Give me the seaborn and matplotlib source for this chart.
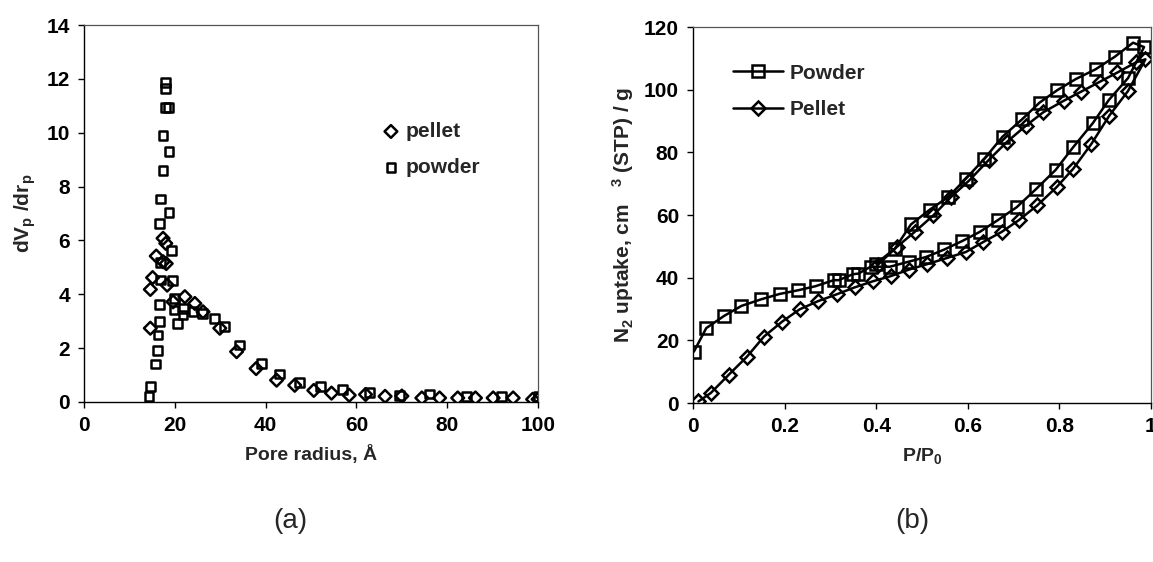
import matplotlib
matplotlib.use("Agg")
import matplotlib.pyplot as plt
import seaborn as sns
import numpy as np

# ---------------- data ----------------
# (a) pore size distribution, dVp/drp vs pore radius (Å)
powder_r = [14.3, 14.6, 15.8, 16.1, 16.3, 16.7, 16.7, 16.9, 16.9, 16.7, 16.9, 17.4,
            17.4, 17.9, 18.0, 18.0, 18.6, 18.7, 18.7, 19.2, 19.5, 19.8, 20.0, 20.5,
            21.8, 21.9, 24.0, 26.1, 28.8, 31.0, 34.3, 39.1, 43.1, 47.5, 52.1, 56.9,
            62.9, 69.5, 76.0, 84.2, 91.9, 100.0]
powder_dv = [0.20, 0.57, 1.41, 1.90, 2.49, 3.00, 3.63, 4.53, 5.17, 6.63, 7.54, 8.61,
             9.91, 10.94, 11.65, 11.86, 10.94, 9.29, 7.03, 5.62, 4.50, 3.42, 3.85, 2.92,
             3.23, 3.47, 3.35, 3.29, 3.10, 2.81, 2.12, 1.44, 1.04, 0.72, 0.57, 0.45,
             0.35, 0.25, 0.30, 0.20, 0.20, 0.20]

pellet_r = [14.6, 14.6, 15.1, 15.9, 17.4, 18.0, 17.4, 18.1, 18.3, 19.6, 22.2, 24.4,
            26.2, 29.9, 33.6, 37.9, 42.4, 46.4, 50.6, 54.5, 58.4, 62.0, 66.3, 70.0,
            74.4, 78.3, 82.3, 86.2, 90.1, 94.5, 98.8, 100.0]
pellet_dv = [2.74, 4.18, 4.62, 5.42, 6.08, 5.89, 5.21, 5.14, 4.34, 3.72, 3.91, 3.66,
             3.35, 2.74, 1.87, 1.24, 0.81, 0.62, 0.43, 0.33, 0.25, 0.28, 0.21, 0.22,
             0.15, 0.15, 0.15, 0.15, 0.15, 0.15, 0.10, 0.10]

# (b) N2 isotherms: adsorption branch followed by desorption branch
powder_p = [0.002, 0.029, 0.068, 0.106, 0.149, 0.189, 0.230, 0.268, 0.307, 0.318,
            0.349, 0.361, 0.388, 0.430, 0.471, 0.509, 0.549, 0.588, 0.626, 0.665,
            0.707, 0.750, 0.792, 0.830, 0.873, 0.908, 0.950, 0.985,
            0.961, 0.921, 0.879, 0.836, 0.796, 0.757, 0.719, 0.676, 0.636, 0.596,
            0.557, 0.517, 0.476, 0.441, 0.400]
powder_n2 = [16.4, 23.9, 27.8, 31.0, 33.1, 34.8, 36.0, 37.3, 39.2, 39.2,
             41.1, 41.3, 43.5, 43.5, 45.1, 46.6, 49.0, 51.7, 54.6, 58.3,
             62.5, 68.4, 74.4, 81.6, 89.3, 96.7, 103.7, 113.6,
             115.0, 110.5, 106.5, 103.4, 99.9, 95.9, 90.6, 85.0, 77.9, 71.6,
             65.7, 61.7, 57.0, 49.3, 44.5]

pellet_p = [0.012, 0.039, 0.078, 0.118, 0.155, 0.195, 0.233, 0.273, 0.314, 0.353,
            0.394, 0.432, 0.472, 0.511, 0.555, 0.596, 0.634, 0.674, 0.711, 0.752,
            0.794, 0.830, 0.870, 0.909, 0.950, 0.988,
            0.967, 0.927, 0.888, 0.848, 0.810, 0.765, 0.727, 0.686, 0.646, 0.603,
            0.563, 0.525, 0.484, 0.445, 0.403]
pellet_n2 = [0.5, 3.2, 9.0, 14.8, 21.2, 26.0, 29.9, 32.5, 34.7, 36.9,
             38.9, 40.5, 42.6, 44.3, 46.3, 48.2, 51.4, 54.6, 58.3, 63.1,
             68.9, 74.7, 82.7, 91.7, 99.6, 109.7,
             108.7, 105.5, 102.5, 99.4, 96.5, 92.8, 88.5, 83.4, 77.6, 71.0,
             65.7, 59.9, 54.6, 49.8, 44.0]

# ---------------- style ----------------
sns.set_theme(style="ticks")
plt.rcParams["font.family"] = ["Liberation Sans", "DejaVu Sans"]
plt.rcParams["font.weight"] = "bold"
plt.rcParams["mathtext.fontset"] = "custom"
plt.rcParams["mathtext.rm"] = "Liberation Sans:bold"
plt.rcParams["mathtext.it"] = "Liberation Sans:bold"
plt.rcParams["mathtext.bf"] = "Liberation Sans:bold"
plt.rcParams["axes.edgecolor"] = "black"
plt.rcParams["xtick.color"] = "black"
plt.rcParams["ytick.color"] = "black"

fig = plt.figure(figsize=(11.53, 5.62), dpi=100)
ax1 = fig.add_axes([0.0729, 0.2847, 0.3938, 0.6708])
ax2 = fig.add_axes([0.6010, 0.2829, 0.3972, 0.6690])

tick_fs = 15
label_fs = 14
legend_fs = 15

# ---------------- (a) ----------------
sns.scatterplot(x=pellet_r, y=pellet_dv, marker="D", s=42, facecolor="none",
                edgecolor="black", linewidth=1.8, ax=ax1, label="pellet", zorder=3)
sns.scatterplot(x=powder_r, y=powder_dv, marker="s", s=40, facecolor="none",
                edgecolor="black", linewidth=1.8, ax=ax1, label="powder", zorder=3)
ax1.set_xlim(0, 100)
ax1.set_ylim(0, 14)
ax1.set_xticks(np.arange(0, 101, 20))
ax1.set_yticks(np.arange(0, 15, 2))
ax1.set_xlabel("Pore radius, Å", fontsize=label_fs, fontweight="bold", labelpad=7)
ax1.set_ylabel(r"dV$_\mathrm{p}$ /dr$_\mathrm{p}$", fontsize=label_fs + 1,
               fontweight="bold", labelpad=6)
ax1.legend(loc="upper left", bbox_to_anchor=(0.63, 0.765), frameon=False,
           fontsize=legend_fs, handletextpad=0.1, labelspacing=0.8, borderaxespad=0,
           handlelength=1.2)

# ---------------- (b) ----------------
sns.lineplot(x=powder_p, y=powder_n2, sort=False, estimator=None, color="black",
             lw=1.8, marker="s", markersize=8, markerfacecolor="none",
             markeredgecolor="black", markeredgewidth=1.8, ax=ax2, label="Powder")
sns.lineplot(x=pellet_p, y=pellet_n2, sort=False, estimator=None, color="black",
             lw=1.8, marker="D", markersize=7.5, markerfacecolor="none",
             markeredgecolor="black", markeredgewidth=1.8, ax=ax2, label="Pellet")
ax2.set_xlim(0, 1)
ax2.set_ylim(0, 120)
ax2.set_xticks([0, 0.2, 0.4, 0.6, 0.8, 1.0])
ax2.set_xticklabels(["0", "0.2", "0.4", "0.6", "0.8", "1"])
ax2.set_yticks(np.arange(0, 121, 20))
ax2.set_xlabel(r"P/P$_\mathrm{0}$", fontsize=label_fs, fontweight="bold", labelpad=7)
ax2.set_ylabel(r"N$_\mathrm{2}$ uptake, cm   $^\mathrm{3}$ (STP) / g",
               fontsize=label_fs + 1, fontweight="bold", labelpad=6)
ax2.legend(loc="upper left", bbox_to_anchor=(0.07, 0.925), frameon=False,
           fontsize=legend_fs, handletextpad=0.3, labelspacing=0.85, borderaxespad=0,
           handlelength=2.4)

for ax in (ax1, ax2):
    ax.tick_params(axis="both", direction="out", length=4, width=1,
                   labelsize=tick_fs, pad=6)
    for lab in ax.get_xticklabels() + ax.get_yticklabels():
        lab.set_fontweight("bold")
    for side in ("left", "bottom"):
        ax.spines[side].set_linewidth(1.0)
        ax.spines[side].set_color("black")
    for side in ("top", "right"):
        ax.spines[side].set_visible(True)
        ax.spines[side].set_linewidth(0.9)
        ax.spines[side].set_color("#555555")

fig.text(0.2515, 0.073, "(a)", fontsize=20, fontweight="normal", ha="center", va="center")
fig.text(0.791, 0.073, "(b)", fontsize=20, fontweight="normal", ha="center", va="center")

fig.savefig("out.png", dpi=100, facecolor="white")
